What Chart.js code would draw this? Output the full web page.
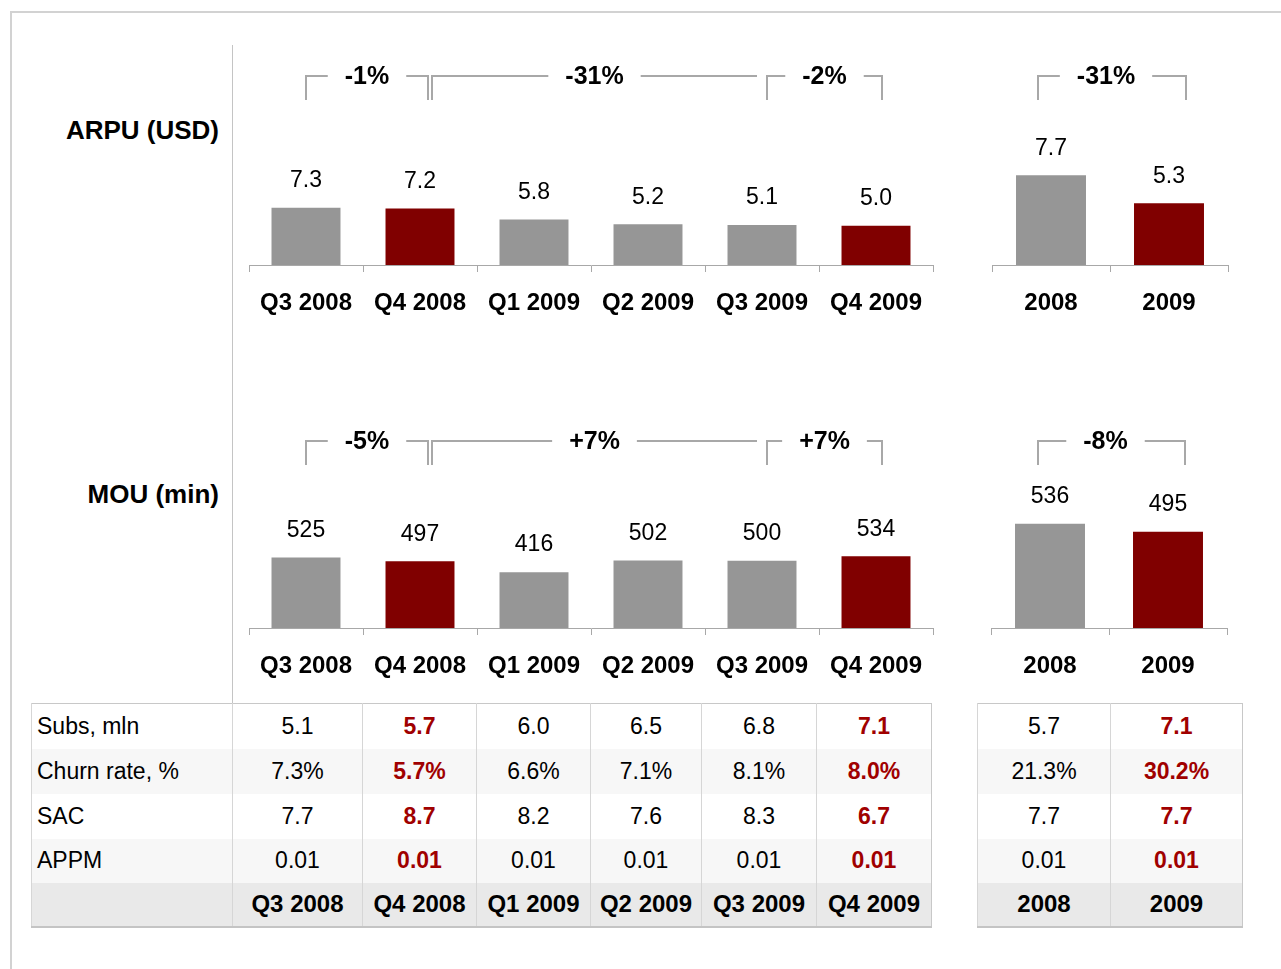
<!DOCTYPE html>
<html>
<head>
<meta charset="utf-8">
<script src="https://cdn.jsdelivr.net/npm/chart.js@4.4.1/dist/chart.umd.min.js"></script>
<style>
  html, body { margin: 0; width: 1281px; height: 969px; overflow: hidden; background: #fff; }
  body { font-family: "Liberation Sans", Arial, sans-serif; position: relative; }
  #frame { position: absolute; left: 10px; top: 11px; width: 1400px; height: 1100px; border: 2px solid #d2d2d2; }
  #divider { position: absolute; left: 232px; top: 45px; width: 1px; height: 658px; background: #c4c4c4; }
  canvas { position: absolute; }
  .rowLabel { position: absolute; left: 0; width: 219px; text-align: right; font-weight: bold; font-size: 26px; line-height: 30px; color: #000; }
  table { position: absolute; border-collapse: collapse; table-layout: fixed; font-size: 23px; color: #000;
          border: 1px solid #c8c8c8; border-bottom: 2px solid #c4c4c4; }
  td { padding: 0; text-align: center; border-left: 1px solid #d6d6d6; white-space: nowrap; }
  td.lbl { text-align: left; padding-left: 5px; }
  tr.alt td { background: #f7f7f7; }
  tr.head td { background: #e9e9e9; font-weight: bold; font-size: 24px; }
  td.hi { color: #a00000; font-weight: bold; }
</style>
</head>
<body>
<div id="frame"></div>
<div id="divider"></div>
<div class="rowLabel" style="top:115px">ARPU (USD)</div>
<div class="rowLabel" style="top:479px">MOU (min)</div>

<canvas id="arpuQ" width="700" height="300" style="left:240px;top:40px"></canvas>
<canvas id="arpuY" width="260" height="300" style="left:980px;top:40px"></canvas>
<canvas id="mouQ" width="700" height="300" style="left:240px;top:400px"></canvas>
<canvas id="mouY" width="260" height="300" style="left:980px;top:400px"></canvas>

<table id="tableQ" style="left:31px;top:703px;width:900px"></table>
<table id="tableY" style="left:977px;top:703px;width:265px"></table>

<script>
const quarters = ["Q3 2008", "Q4 2008", "Q1 2009", "Q2 2009", "Q3 2009", "Q4 2009"];
const years = ["2008", "2009"];

const arpuQuarterly = [7.3, 7.2, 5.8, 5.2, 5.1, 5.0];
const arpuYearly = [7.7, 5.3];
const mouQuarterly = [525, 497, 416, 502, 500, 534];
const mouYearly = [536, 495];

const arpuQuarterChanges = ["-1%", "-31%", "-2%"];
const arpuYearChanges = ["-31%"];
const mouQuarterChanges = ["-5%", "+7%", "+7%"];
const mouYearChanges = ["-8%"];

const rowNames = ["Subs, mln", "Churn rate, %", "SAC", "APPM"];
const subsQuarterly = [5.1, 5.7, 6.0, 6.5, 6.8, 7.1];
const churnQuarterly = [7.3, 5.7, 6.6, 7.1, 8.1, 8.0];
const sacQuarterly = [7.7, 8.7, 8.2, 7.6, 8.3, 6.7];
const appmQuarterly = [0.01, 0.01, 0.01, 0.01, 0.01, 0.01];
const subsYearly = [5.7, 7.1];
const churnYearly = [21.3, 30.2];
const sacYearly = [7.7, 7.7];
const appmYearly = [0.01, 0.01];

const FONT = '"Liberation Sans", Arial, sans-serif';
const GREY = "#969696";
const RED = "#800000";
const LINE = "#a8a8a8";

const quarterHi = quarters.map((q) => q.startsWith("Q4"));
const yearHi = years.map((y) => y === "2009");

const valueLabels = (decimals) => ({
  id: "valueLabels",
  afterDatasetsDraw(chart) {
    const ctx = chart.ctx;
    const ds = chart.data.datasets[0];
    ctx.save();
    ctx.font = `23px ${FONT}`;
    ctx.fillStyle = "#000";
    ctx.textAlign = "center";
    ctx.textBaseline = "middle";
    chart.getDatasetMeta(0).data.forEach((bar, i) => {
      ctx.fillText(ds.data[i].toFixed(decimals), bar.x, bar.y - 27);
    });
    ctx.restore();
  },
});

const brackets = (y, labels, items) => ({
  id: "brackets",
  afterDraw(chart) {
    const ctx = chart.ctx;
    const xs = chart.scales.x;
    const leg = 24;
    ctx.save();
    items.forEach((it, k) => {
      const x0 = xs.getPixelForValue(it.from) + it.dx0;
      const x1 = xs.getPixelForValue(it.to) + it.dx1;
      ctx.strokeStyle = LINE;
      ctx.lineWidth = 2;
      ctx.beginPath();
      ctx.moveTo(x0, y + leg);
      ctx.lineTo(x0, y);
      ctx.lineTo(x1, y);
      if (it.rightLeg !== false) ctx.lineTo(x1, y + leg);
      ctx.stroke();

      const tx = (x0 + x1) / 2 + (it.textDx || 0);
      ctx.font = `bold 25px ${FONT}`;
      const w = ctx.measureText(labels[k]).width;
      ctx.fillStyle = "#fff";
      ctx.fillRect(tx - w / 2 - 17, y - 15, w + 34, 30);
      ctx.fillStyle = "#000";
      ctx.textAlign = "center";
      ctx.textBaseline = "middle";
      ctx.fillText(labels[k], tx, y + 1);
    });
    ctx.restore();
  },
});

function barChart(id, labels, values, highlight, cfg) {
  return new Chart(document.getElementById(id), {
    type: "bar",
    data: {
      labels: labels,
      datasets: [
        {
          data: values,
          backgroundColor: highlight.map((h) => (h ? RED : GREY)),
          barPercentage: cfg.barPct,
          categoryPercentage: 1,
        },
      ],
    },
    options: {
      responsive: false,
      animation: false,
      layout: { padding: cfg.padding },
      plugins: { legend: { display: false }, tooltip: { enabled: false } },
      scales: {
        x: {
          grid: { display: true, drawOnChartArea: false, drawTicks: true, tickLength: 7, color: LINE },
          border: { display: true, color: LINE },
          ticks: {
            color: "#000",
            font: { family: FONT, size: 24, weight: "bold" },
            padding: 17,
            maxRotation: 0,
            autoSkip: false,
          },
          afterFit: (s) => {
            s.height = 60;
          },
        },
        y: { display: false, min: 0, max: cfg.max },
      },
    },
    plugins: [valueLabels(cfg.decimals), brackets(cfg.bracketY, cfg.changes, cfg.spans)],
  });
}

const quarterSpans = [
  { from: 0, to: 1, dx0: 0, dx1: 8 },
  { from: 1, to: 4, dx0: 12, dx1: -5, rightLeg: false },
  { from: 4, to: 5, dx0: 5, dx1: 6 },
];
const yearSpans = [{ from: 0, to: 1, dx0: -13, dx1: 17, textDx: -6 }];

barChart("arpuQ", quarters, arpuQuarterly, quarterHi, {
  barPct: 0.605, max: 18, decimals: 1, bracketY: 36,
  padding: { left: 9, right: 7, top: 84, bottom: 15 },
  changes: arpuQuarterChanges, spans: quarterSpans,
});
barChart("arpuY", years, arpuYearly, yearHi, {
  barPct: 0.593, max: 12, decimals: 1, bracketY: 36,
  padding: { left: 12, right: 12, top: 85, bottom: 15 },
  changes: arpuYearChanges, spans: yearSpans,
});
barChart("mouQ", quarters, mouQuarterly, quarterHi, {
  barPct: 0.605, max: 1050, decimals: 0, bracketY: 41,
  padding: { left: 9, right: 7, top: 87, bottom: 12 },
  changes: mouQuarterChanges, spans: quarterSpans,
});
barChart("mouY", years, mouYearly, yearHi, {
  barPct: 0.593, max: 720, decimals: 0, bracketY: 41,
  padding: { left: 11, right: 13, top: 88, bottom: 12 },
  changes: mouYearChanges, spans: [{ from: 0, to: 1, dx0: -12, dx1: 17, textDx: -6 }],
});

// tables under the charts
const fmt = [(v) => v.toFixed(1), (v) => v.toFixed(1) + "%", (v) => v.toFixed(1), (v) => v.toFixed(2)];
const rowHeights = [45, 45, 45, 44, 44];

function buildTable(id, cols, rows, highlight, widths, withLabels) {
  const table = document.getElementById(id);
  const cg = document.createElement("colgroup");
  widths.forEach((w) => {
    const c = document.createElement("col");
    c.style.width = w + "px";
    cg.appendChild(c);
  });
  table.appendChild(cg);

  rows.forEach((vals, r) => {
    const tr = document.createElement("tr");
    if (r % 2 === 1) tr.className = "alt";
    tr.style.height = rowHeights[r] + "px";
    if (withLabels) {
      const td = document.createElement("td");
      td.className = "lbl";
      td.textContent = rowNames[r];
      tr.appendChild(td);
    }
    vals.forEach((v, i) => {
      const td = document.createElement("td");
      td.textContent = fmt[r](v);
      if (highlight[i]) td.className = "hi";
      tr.appendChild(td);
    });
    table.appendChild(tr);
  });

  const head = document.createElement("tr");
  head.className = "head";
  head.style.height = rowHeights[4] + "px";
  if (withLabels) head.appendChild(document.createElement("td"));
  cols.forEach((c) => {
    const td = document.createElement("td");
    td.textContent = c;
    head.appendChild(td);
  });
  table.appendChild(head);
}

buildTable("tableQ", quarters,
  [subsQuarterly, churnQuarterly, sacQuarterly, appmQuarterly],
  quarterHi, [201, 130, 114, 114, 111, 115, 115], true);
buildTable("tableY", years,
  [subsYearly, churnYearly, sacYearly, appmYearly],
  yearHi, [133, 132], false);
</script>
</body>
</html>
